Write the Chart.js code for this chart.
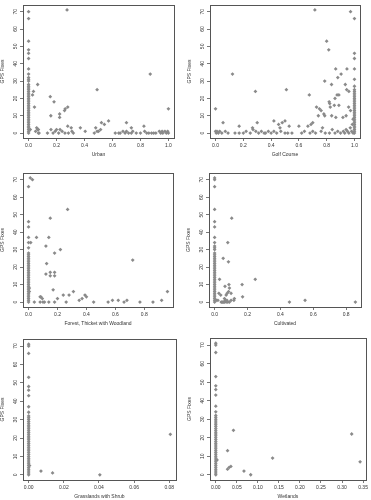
<!DOCTYPE html>
<html>
<head>
<meta charset="utf-8">
<script src="https://cdn.jsdelivr.net/npm/chart.js@4"></script>
<style>
  body { margin: 0; background: #fff; width: 371px; height: 500px; position: relative; overflow: hidden; }
  .panel { position: absolute; }
</style>
</head>
<body>
<script>
// y values (GPS Fixes) of the sites that sit on the axis column, per panel
const urbanColumn = [70,66,53,48,46,43,37,34,32,31,30,28,27,26,25,24,23,22,21,20,19,18,17,16,15,14,13,12,11,10,9,8,7,6,5,4,3,2,1,0];
const golfColumn = [66,46,43,37,31,27,25,24,23,22,21,20,19,18,17,16,15,14,13,12,11,10,9,8,7,6,5,4,3,2,1,0];
const forestColumn = [66,46,43,37,34,31,28,27,26,25,24,23,22,21,20,19,18,17,16,15,14,13,12,11,10,9,8,7,6,5,4,3,2,1,0];
const cultColumn = [71,70,66,53,46,43,37,34,32,31,30,28,27,26,25,24,23,22,21,20,19,18,17,16,15,14,13,12,11,10,9,8,7,6,5,4,3,2,1,0];
const grassColumn = [71,70,66,53,48,46,43,37,34,32,31,30,29,28,27,26,25,24,23,22,21,20,19,18,17,16,15,14,13,12,11,10,9,8,7,6,5,4,3,2,1,0];
const wetColumn = [71,70,66,53,48,46,43,37,34,32,31,30,29,28,27,26,25,24,23,22,21,20,19,18,17,16,15,14,13,12,11,10,9,8,7,6,5,4,3,2,1,0];

// the other sites as [proportion, GPS fixes]
const urbanPoints = [[0.275,71],[0.87,34],[0.49,25],[1.0,14],[0.065,28],[0.035,24],[0.028,22],[0.042,15],[0.155,21],[0.182,18],
  [0.159,10],[0.222,11],[0.222,9],[0.257,13],[0.262,14],[0.28,15],[0.572,7],[0.521,6],[0.542,5],[0.70,6],[0.825,4],[0.735,3],
  [0.37,3],[0.48,3],[0.28,4],[0.305,3],[0.012,2],[0.05,1],[0.058,3],[0.065,2],[0.07,0],[0.07,2],[0.075,0],[0.135,0],[0.16,2],
  [0.175,0],[0.19,1],[0.2,2],[0.215,0],[0.225,2],[0.24,1],[0.26,0],[0.285,0],[0.31,1],[0.32,0],[0.405,1],[0.47,0],[0.49,1],
  [0.5,1],[0.515,2],[0.62,0],[0.645,0],[0.655,0],[0.675,1],[0.69,0],[0.7,1],[0.715,0],[0.735,0],[0.745,1],[0.77,0],[0.8,0],
  [0.83,1],[0.845,0],[0.86,0],[0.88,0],[0.895,0],[0.91,0],[0.935,1],[0.945,0],[0.955,1],[0.96,0],[0.975,1],[0.995,1],[1.0,0],[0.985,0]];
const golfPoints = [[0.715,71],[0.972,70],[0.80,53],[0.815,48],[0.865,37],[0.946,37],[0.904,34],[0.122,34],[0.88,32],[0.786,30],
  [0.835,28],[0.934,28],[0.944,25],[0.96,24],[0.287,24],[0.51,25],[0.675,22],[0.875,22],[0.888,22],[0.86,20],[0.818,18],[0.822,17],
  [0.855,16],[0.888,16],[0.826,15],[0.727,15],[0.748,14],[0.76,13],[0.74,10],[0.78,11],[0.786,10],[0.836,10],[0.866,9],[0.917,9],
  [0.94,10],[0.958,15],[0.972,13],[0.054,6],[0.30,6],[0.42,7],[0.48,6],[0.50,7],[0.454,5],[0.70,6],[0.77,3],[0.17,4],[0.60,4],
  [0.665,4],[0.687,5],[0.464,3],[0.53,4],[0.266,3],[0.0,14],[0.0,1],[0.005,0],[0.01,1],[0.02,0],[0.03,1],[0.045,0],[0.07,1],
  [0.09,0],[0.14,0],[0.17,0],[0.2,0],[0.22,1],[0.25,0],[0.27,2],[0.29,1],[0.31,0],[0.33,1],[0.35,0],[0.36,0],[0.38,1],[0.40,0],
  [0.42,1],[0.44,0],[0.47,1],[0.50,0],[0.52,0],[0.55,0],[0.62,0],[0.64,1],[0.68,0],[0.70,1],[0.72,0],[0.76,1],[0.79,0],[0.82,0],
  [0.84,2],[0.86,0],[0.88,1],[0.90,0],[0.92,1],[0.93,0],[0.94,2],[0.95,1],[0.96,0],[0.97,3],[0.98,1],[0.99,0],[0.985,5],[0.99,8]];
const forestPoints = [[0.012,71],[0.027,70],[0.27,53],[0.15,48],[0.055,37],[0.14,37],[0.015,34],[0.12,32],[0.22,30],[0.18,28],
  [0.125,22],[0.12,16],[0.15,17],[0.15,15],[0.18,17],[0.18,15],[0.17,7],[0.085,3],[0.095,2],[0.08,3],[0.2,2],[0.24,4],[0.28,4],
  [0.31,6],[0.35,1],[0.37,2],[0.39,4],[0.40,3],[0.45,0],[0.04,0],[0.08,0],[0.1,0],[0.11,0],[0.14,0],[0.18,0],[0.26,0],[0.55,0],
  [0.58,1],[0.62,1],[0.66,0],[0.68,1],[0.72,24],[0.77,0],[0.86,0],[0.92,1],[0.96,6],[0.005,8],[0.005,6]];
const cultPoints = [[0.104,48],[0.08,34],[0.052,25],[0.084,23],[0.03,13],[0.247,13],[0.167,10],[0.063,9],[0.087,10],[0.09,8],
  [0.10,5],[0.076,5],[0.026,5],[0.037,4],[0.17,3],[0.07,4],[0.117,1],[0.10,1],[0.12,2],[0.06,2],[0.085,6],[0.04,0],[0.045,0],
  [0.05,0],[0.055,0],[0.06,0],[0.065,1],[0.07,0],[0.075,1],[0.08,0],[0.09,0],[0.01,1],[0.02,1],[0.455,0],[0.55,1],[0.856,0]];
const grassPoints = [[0.0005,5],[0.007,2],[0.0136,1],[0.0405,0],[0.0806,22]];
const wetPoints = [[0.003,8],[0.042,24],[0.028,13],[0.028,3],[0.032,4],[0.036,4.5],[0.067,2],[0.083,0],[0.135,9],[0.323,22],[0.343,7]];

// axis labels
const yTicks = ["0","10","20","30","40","50","60","70"];
const unitTicks = ["0.0","0.2","0.4","0.6","0.8","1.0"];
const forestTicks = ["0.0","0.2","0.4","0.6","0.8"];
const cultTicks = ["0.0","0.2","0.4","0.6","0.8"];
const grassTicks = ["0.00","0.02","0.04","0.06","0.08"];
const wetTicks = ["0.00","0.05","0.10","0.15","0.20","0.25","0.30","0.35"];

const panels = [
  { title: "Urban", columnX: 0, column: urbanColumn, points: urbanPoints, ticks: unitTicks, box: [23, 2, 175, 138] },
  { title: "Golf Course", columnX: 1, column: golfColumn, points: golfPoints, ticks: unitTicks, box: [210, 2, 361, 138] },
  { title: "Forest, Thicket with Woodland", columnX: 0, column: forestColumn, points: forestPoints, ticks: forestTicks, box: [23, 170, 174, 307] },
  { title: "Cultivated", columnX: 0, column: cultColumn, points: cultPoints, ticks: cultTicks, box: [209, 170, 362, 307] },
  { title: "Grasslands with Shrub", columnX: 0, column: grassColumn, points: grassPoints, ticks: grassTicks, box: [23, 336, 177, 480] },
  { title: "Wetlands", columnX: 0, column: wetColumn, points: wetPoints, ticks: wetTicks, box: [210, 335, 367, 480] }
];

const boxPlugin = {
  id: 'box',
  afterDraw(chart) {
    const a = chart.chartArea, ctx = chart.ctx;
    ctx.save();
    ctx.strokeStyle = '#555';
    ctx.lineWidth = 1;
    ctx.strokeRect(Math.round(a.left) + 0.5, Math.round(a.top) + 0.5, Math.round(a.width), Math.round(a.height));
    ctx.restore();
  }
};

const txt = '#333';
const font = { family: 'Liberation Sans', size: 5 };

panels.forEach((p, i) => {
  const [L, T, R, B] = p.box;
  const div = document.createElement('div');
  div.className = 'panel';
  div.style.left = (L - 23) + 'px';
  div.style.top = (T - 2) + 'px';
  div.style.width = (R - L + 26) + 'px';
  div.style.height = (B - T + 22) + 'px';
  const canvas = document.createElement('canvas');
  div.appendChild(canvas);
  document.body.appendChild(div);

  const data = p.column.map(y => ({ x: p.columnX, y: y }))
    .concat(p.points.map(d => ({ x: d[0], y: d[1] })));
  const xVals = data.map(d => d.x);
  const xMin = Math.min(...xVals), xMax = Math.max(...xVals);
  const pad = (xMax - xMin) * 0.04;

  new Chart(canvas, {
    type: 'scatter',
    data: {
      datasets: [{
        data: data,
        pointStyle: 'rectRot',
        pointRadius: 1.9,
        backgroundColor: '#8a8a8a',
        borderWidth: 0
      }]
    },
    options: {
      responsive: true,
      maintainAspectRatio: false,
      animation: false,
      layout: { padding: { top: 2, right: 3, left: 0, bottom: 0 } },
      plugins: { legend: { display: false }, tooltip: { enabled: false } },
      scales: {
        x: {
          type: 'linear',
          min: xMin - pad,
          max: xMax + pad,
          afterBuildTicks: s => { s.ticks = p.ticks.map(t => ({ value: parseFloat(t) })); },
          afterFit: s => { s.height = 20; },
          grid: { drawOnChartArea: false, tickLength: 3, color: '#555', lineWidth: 0.8 },
          border: { display: false },
          ticks: {
            font: font, color: txt, padding: 2, maxRotation: 0, autoSkip: false,
            callback: (v, idx) => p.ticks[idx]
          },
          title: { display: true, text: p.title, font: font, color: txt, padding: { top: 0, bottom: 0 } }
        },
        y: {
          min: -2.84,
          max: 73.84,
          afterBuildTicks: s => { s.ticks = yTicks.map(t => ({ value: parseFloat(t) })); },
          afterFit: s => { s.width = 23; },
          grid: { drawOnChartArea: false, tickLength: 3, color: '#555', lineWidth: 0.8 },
          border: { display: false },
          ticks: {
            font: font, color: txt, padding: 2, minRotation: 90, maxRotation: 90, crossAlign: 'center', autoSkip: false,
            callback: (v, idx) => yTicks[idx]
          },
          title: { display: true, text: 'GPS Fixes', font: font, color: txt, padding: 0 }
        }
      }
    },
    plugins: [boxPlugin]
  });
});
</script>
</body>
</html>
